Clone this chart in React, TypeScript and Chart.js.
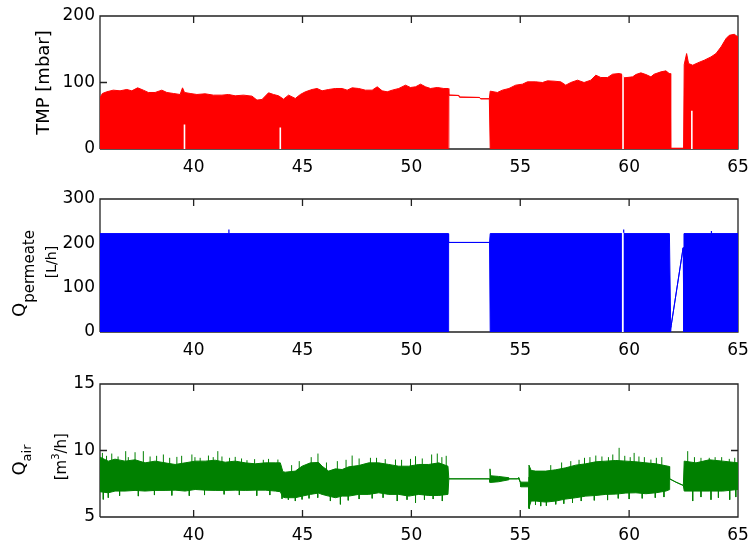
import React, { useEffect, useRef } from "react";
import { Chart, registerables } from "chart.js";
Chart.register(...registerables);

const FONT = "'DejaVu Sans', sans-serif";

// ---------- shared x axis (days) ----------
const xMin = 35.7;
const xMax = 65;
const xTicks = [40, 45, 50, 55, 60, 65];

// ---------- TMP [mbar] ----------
const tmpTicks = [0, 100, 200];
const tmpDays = [
  35.70, 35.81, 36.01, 36.31, 36.62, 36.93, 37.16, 37.43, 37.69, 37.92, 38.23, 38.54, 38.77, 39.07, 39.38, 39.49,
  39.58, 39.84, 40.15, 40.53, 40.91, 41.30, 41.60, 41.91, 42.29, 42.68, 42.91, 43.14, 43.44, 43.67, 43.90, 44.13,
  44.36, 44.67, 44.90, 45.13, 45.44, 45.67, 45.90, 46.20, 46.51, 46.82, 47.05, 47.28, 47.58, 47.89, 48.20, 48.43,
  48.66, 48.89, 49.12, 49.42, 49.73, 49.96, 50.19, 50.42, 50.65, 50.88, 51.19, 51.49, 51.69,
  51.72, 52.18, 52.21, 53.13, 53.18, 53.58,
  53.62, 53.95, 54.18, 54.48, 54.79, 55.10, 55.33, 55.71, 56.02, 56.25, 56.55, 56.86, 57.09, 57.32, 57.63, 57.93,
  58.24, 58.47, 58.70, 59.01, 59.24, 59.54, 59.67, 59.77, 60.16, 60.31, 60.54, 60.77, 61.00, 61.15, 61.46, 61.69,
  61.84, 61.89,
  61.91, 62.50,
  62.53, 62.64, 62.73, 62.92, 63.15, 63.45, 63.76, 63.99, 64.22, 64.45, 64.60, 64.83, 65.00,
];
const tmpValues = [
  77, 83.5, 86, 88.5, 87.5, 89.5, 87.5, 92, 88.5, 85, 85, 88.5, 85, 83.5, 82, 92,
  85, 83.5, 82, 83, 81, 81, 82, 80, 81, 79.5, 73.5, 74.5, 84.5, 82, 80, 75,
  81, 76, 82, 86, 89.5, 91, 87.5, 89.5, 91, 91, 88.5, 92, 91, 88.5, 88.5, 93.5,
  87.5, 86, 88.5, 91, 96, 92.5, 93.5, 97.5, 93.5, 91, 92.5, 91, 91,
  81, 80.5, 78, 77.5, 75.5, 75.5,
  87, 85, 88.5, 91, 96, 97.5, 101, 101, 100, 102.5, 102, 101, 96, 100, 103.5, 100,
  103.5, 111, 107.5, 107.5, 112.5, 113.5, 112.5, 107, 108.5, 112, 114.5, 112, 108.5, 112.5, 116, 117.5,
  113.5, 113.5,
  1, 1,
  127, 143.5, 128.5, 126, 129.5, 133.5, 138.5, 143.5, 153.5, 166, 171, 172.5, 168.5,
];
// periods with the pump idle (line only, no filtration cycles)
const tmpIdleStart = [51.70, 61.90];
const tmpIdleEnd = [53.60, 62.52];
// samples whose cycle minimum stayed high (white notches)
const tmpNotchDays = [39.58, 43.98, 59.72, 62.88];
const tmpNotchTops = [37, 32.5, 118, 57.5];

// ---------- Q permeate [L/h] ----------
const permTicks = [0, 100, 200, 300];
const permDays = [35.70, 51.69, 51.71, 53.59, 53.62, 61.85, 61.91, 61.93, 62.48, 62.52, 65.00];
const permValues = [222, 222, 202, 202, 222, 222, 10, 14, 190, 222, 222];
const permIdleStart = [51.70, 61.92];
const permIdleEnd = [53.60, 62.49];
const permSpikeDays = [41.62, 59.75, 63.78];
const permSpikeValues = [231, 231, 228];
const permSpikeBase = 222;
const permNotchDays = [59.71];
const permNotchTops = [224];

// ---------- Q air [m3/h] ----------
const airTicks = [5, 10, 15];
const airDays = [
  35.70, 36.08, 36.39, 36.85, 37.31, 37.77, 38.23, 38.69, 39.15, 39.61, 40.07, 40.53, 40.99, 41.45, 41.91, 42.37,
  42.83, 43.29, 43.75, 43.98, 44.10, 44.21, 44.67, 44.98, 45.36, 45.74, 45.90, 46.20, 46.51, 46.82, 47.12, 47.58,
  48.04, 48.50, 48.96, 49.42, 49.88, 50.34, 50.80, 51.26, 51.68,
  51.72, 53.59, 53.61, 53.64, 54.00, 54.48, 54.50, 54.86, 54.94, 55.00, 55.02, 55.38,
  55.40, 55.50, 55.71, 56.17, 56.63, 57.09, 57.55, 58.01, 58.47, 58.93, 59.39, 59.85, 60.31, 60.77, 61.23, 61.69,
  61.84,
  61.86, 62.15, 62.49,
  62.53, 63.07, 63.68, 64.30, 65.00,
];
const airHigh = [
  9.5, 9.2, 9.35, 9.2, 9.3, 9.07, 9.2, 9.07, 8.95, 9.07, 9.2, 9.2, 9.27, 9.12, 9.2, 9.07,
  9.0, 9.07, 9.07, 9.07, 8.4, 8.37, 8.45, 8.82, 9.07, 9.1, 8.82, 8.45, 8.62, 8.57, 8.77, 8.87,
  9.07, 9.07, 8.95, 8.82, 8.82, 8.95, 8.95, 9.07, 8.82,
  7.87, 7.87, 8.62, 8.1, 8.05, 7.95, 7.87, 7.87, 7.97, 7.65, 7.62, 7.62,
  8.9, 8.5, 8.45, 8.45, 8.55, 8.7, 8.9, 9.0, 9.15, 9.2, 9.25, 9.2, 9.15, 9.07, 9.0, 8.85,
  8.8,
  7.87, 7.62, 7.37,
  9.2, 9.07, 9.3, 9.2, 9.07,
];
const airLow = [
  6.9, 6.82, 6.95, 6.95, 7.0, 6.95, 7.0, 7.0, 7.02, 6.95, 7.07, 7.02, 7.0, 7.0, 7.02, 7.0,
  7.02, 7.02, 6.95, 6.9, 6.5, 6.45, 6.45, 6.57, 6.7, 6.8, 6.7, 6.57, 6.45, 6.57, 6.57, 6.7,
  6.7, 6.82, 6.7, 6.7, 6.57, 6.7, 6.62, 6.62, 6.7,
  7.87, 7.87, 7.6, 7.6, 7.65, 7.8, 7.87, 7.87, 7.85, 7.6, 7.27, 7.27,
  5.7, 6.2, 6.2, 6.12, 6.2, 6.35, 6.45, 6.57, 6.62, 6.7, 6.72, 6.8, 6.82, 6.75, 6.82, 6.95,
  7.05,
  7.87, 7.62, 7.37,
  6.95, 6.95, 6.95, 6.95, 7.07,
];
// individual peak samples sticking out of the noise band
const airSpikeBase = 8;
const airSpikeDays = [
  35.81, 36.00, 36.24, 36.53, 36.88, 37.00, 37.31, 37.69, 38.00, 38.30, 38.61, 38.90, 39.23, 39.45, 39.92, 40.06,
  40.30, 40.68, 40.90, 41.11, 41.30, 41.65, 41.91, 42.20, 42.45, 42.80, 43.20, 43.44, 43.87, 44.50, 44.85, 45.40,
  45.71, 46.10, 46.60, 47.00, 47.28, 47.60, 48.12, 48.40, 48.80, 49.27, 49.55, 49.96, 50.19, 50.50, 50.93, 51.19,
  51.40, 51.60, 56.40, 56.90, 57.32, 57.70, 57.95, 58.20, 58.47, 58.75, 59.05, 59.25, 59.54, 59.80, 60.05, 60.23,
  60.45, 60.70, 61.00, 61.25, 61.50, 62.69, 63.00, 63.30, 63.68, 63.95, 64.25, 64.60, 64.85,
  35.85, 36.08, 36.60, 37.46, 38.20, 39.00, 39.80, 40.50, 41.40, 42.10, 42.90, 43.50, 44.06, 44.35, 44.67, 44.98,
  45.30, 45.70, 46.28, 46.74, 47.10, 47.60, 48.20, 48.70, 49.35, 49.80, 50.19, 50.60, 51.00, 51.42, 55.41, 55.70,
  55.94, 56.20, 56.63, 57.00, 57.40, 57.80, 58.40, 59.01, 59.50, 60.00, 60.60, 61.20, 61.60, 62.92, 63.30, 63.76,
  64.10, 64.62, 64.90,
];
const airSpikeValues = [
  9.82, 9.6, 9.77, 9.55, 9.95, 9.5, 9.87, 9.95, 9.55, 9.6, 9.7, 9.45, 9.52, 9.6, 9.7, 9.5,
  9.45, 9.62, 9.5, 9.95, 9.55, 9.45, 9.52, 9.4, 9.27, 9.35, 9.3, 9.37, 9.32, 8.9, 9.2, 9.5,
  9.77, 9.1, 9.2, 9.3, 9.62, 9.4, 9.45, 9.45, 9.35, 9.32, 9.3, 9.37, 9.57, 9.4, 9.7, 9.77,
  9.5, 9.6, 8.9, 9.1, 9.2, 9.3, 9.45, 9.5, 9.62, 9.55, 9.5, 9.7, 10.2, 9.6, 9.5, 9.82,
  9.55, 9.5, 9.32, 9.45, 9.5, 9.95, 9.5, 9.45, 9.45, 9.5, 9.5, 9.37, 9.45,
  6.32, 6.45, 6.6, 6.57, 6.65, 6.62, 6.6, 6.65, 6.7, 6.65, 6.6, 6.65, 6.37, 6.3, 6.2, 6.32,
  6.4, 6.45, 6.2, 5.95, 6.25, 6.35, 6.4, 6.45, 6.2, 6.3, 6.07, 6.3, 6.35, 6.2, 5.6, 5.9,
  5.82, 5.85, 5.95, 6.0, 6.07, 6.2, 6.25, 6.27, 6.4, 6.35, 6.4, 6.45, 6.5, 6.2, 6.5, 6.3,
  6.45, 6.3, 6.5,
];

// ---------- helpers ----------
const inIdle = (d: number, s: number[], e: number[]) => s.some((v, i) => d >= v && d <= e[i]);
const pts = (days: number[], vals: number[]) => days.map((d, i) => ({ x: d, y: vals[i] }));
const floorOf = (days: number[], vals: number[], s: number[], e: number[]) =>
  days.map((d, i) => ({ x: d, y: inIdle(d, s, e) ? vals[i] : 0 }));
const vbars = (days: number[], from: number[] | number, to: number[]) => {
  const out: any[] = [];
  days.forEach((d, i) => {
    out.push({ x: d, y: Array.isArray(from) ? from[i] : from }, { x: d, y: to[i] }, { x: d, y: null });
  });
  return out;
};

const CANVAS_W = 749;
const CANVAS_H = 185;
const PAD_TOP = 16;
const PAD_RIGHT = 11;
const Y_AXIS_W = 100;
const PLOT_H = 133;
const PLOT_W = CANVAS_W - PAD_RIGHT - Y_AXIS_W;
const TICK_PX = 7;

// MATLAB-style axes box with inward tick marks, expressed in axis units (drawn under the data)
function frameData(yMin: number, yMax: number, yTicks: number[]) {
  const tx = ((xMax - xMin) * TICK_PX) / PLOT_W;
  const ty = ((yMax - yMin) * TICK_PX) / PLOT_H;
  const out: any[] = [
    { x: xMin, y: yMin }, { x: xMax, y: yMin }, { x: xMax, y: yMax }, { x: xMin, y: yMax }, { x: xMin, y: yMin },
    { x: xMin, y: null },
  ];
  for (const v of xTicks) {
    out.push({ x: v, y: yMax }, { x: v, y: yMax - ty }, { x: v, y: null });
    out.push({ x: v, y: yMin }, { x: v, y: yMin + ty }, { x: v, y: null });
  }
  for (const v of yTicks) {
    out.push({ x: xMin, y: v }, { x: xMin + tx, y: v }, { x: xMin, y: null });
    out.push({ x: xMax, y: v }, { x: xMax - tx, y: v }, { x: xMax, y: null });
  }
  return out;
}

type Run = { t: string; size: number; dy: number };
type TitleLine = { x: number; cy: number; runs: Run[] };

function drawTitles(chart: any, lines: TitleLine[]) {
  const ctx = chart.ctx;
  ctx.save();
  ctx.fillStyle = "#000";
  ctx.textBaseline = "alphabetic";
  ctx.textAlign = "left";
  for (const line of lines) {
    let total = 0;
    for (const r of line.runs) {
      ctx.font = `${r.size}px ${FONT}`;
      total += ctx.measureText(r.t).width;
    }
    ctx.save();
    ctx.translate(line.x, line.cy);
    ctx.rotate(-Math.PI / 2);
    let cx = -total / 2;
    for (const r of line.runs) {
      ctx.font = `${r.size}px ${FONT}`;
      ctx.fillText(r.t, cx, r.dy);
      cx += ctx.measureText(r.t).width;
    }
    ctx.restore();
  }
  ctx.restore();
}

const makeTitlePlugin = (lines: TitleLine[]) => ({
  id: "yTitles",
  afterDatasetsDraw(chart: any) {
    drawTitles(chart, lines);
  },
});

function makeConfig(series: any[], yMin: number, yMax: number, yTicks: number[], titles: TitleLine[]) {
  const frame = {
    data: frameData(yMin, yMax, yTicks),
    borderColor: "#222222",
    borderWidth: 1.3,
    fill: false,
    clip: false,
    order: 10,
  };
  return {
    type: "line",
    data: { datasets: [...series, frame] },
    options: {
      animation: false,
      responsive: false,
      events: [],
      layout: { padding: { top: PAD_TOP, right: PAD_RIGHT, bottom: 0, left: 0 } },
      elements: { point: { radius: 0 }, line: { tension: 0 } },
      plugins: { legend: { display: false }, tooltip: { enabled: false } },
      scales: {
        x: {
          type: "linear",
          min: xMin,
          max: xMax,
          grid: { display: false, drawTicks: false },
          border: { display: false },
          ticks: { color: "#000", font: { family: FONT, size: 17 }, padding: 8, maxRotation: 0, autoSkip: false },
          afterBuildTicks: (s: any) => {
            s.ticks = xTicks.map((v) => ({ value: v }));
          },
          afterFit: (s: any) => {
            s.height = CANVAS_H - PAD_TOP - PLOT_H;
            s.paddingLeft = 0;
            s.paddingRight = 0;
          },
        },
        y: {
          type: "linear",
          min: yMin,
          max: yMax,
          grid: { display: false, drawTicks: false },
          border: { display: false },
          ticks: { color: "#000", font: { family: FONT, size: 17 }, padding: 5, autoSkip: false },
          afterBuildTicks: (s: any) => {
            s.ticks = yTicks.map((v) => ({ value: v }));
          },
          afterFit: (s: any) => {
            s.width = Y_AXIS_W;
            s.paddingTop = 0;
            s.paddingBottom = 0;
          },
        },
      },
    },
    plugins: [makeTitlePlugin(titles)],
  };
}

const RED = "#ff0000";
const BLUE = "#0000ff";
const GREEN = "#008000";

function tmpConfig() {
  return makeConfig(
    [
      { data: vbars(tmpNotchDays, 0, tmpNotchTops), borderColor: "#ffffff", borderWidth: 1.6, fill: false, order: 0 },
      { data: pts(tmpDays, tmpValues), borderColor: RED, backgroundColor: RED, borderWidth: 1, fill: "+1", order: 1 },
      { data: floorOf(tmpDays, tmpValues, tmpIdleStart, tmpIdleEnd), borderColor: RED, borderWidth: 1, fill: false, order: 2 },
    ],
    0,
    200,
    tmpTicks,
    [{ x: 49, cy: 82.5, runs: [{ t: "TMP [mbar]", size: 18, dy: 0 }] }]
  );
}

function permConfig() {
  return makeConfig(
    [
      { data: vbars(permNotchDays, 0, permNotchTops), borderColor: "#ffffff", borderWidth: 1.8, fill: false, order: 0 },
      { data: vbars(permSpikeDays, permSpikeBase, permSpikeValues), borderColor: BLUE, borderWidth: 1.2, fill: false, order: 0 },
      { data: pts(permDays, permValues), borderColor: BLUE, backgroundColor: BLUE, borderWidth: 1, fill: "+1", order: 1 },
      { data: floorOf(permDays, permValues, permIdleStart, permIdleEnd), borderColor: BLUE, borderWidth: 1, fill: false, order: 2 },
    ],
    0,
    300,
    permTicks,
    [
      { x: 25, cy: 90.5, runs: [{ t: "Q", size: 18, dy: 0 }, { t: "permeate", size: 15, dy: 9 }] },
      { x: 56, cy: 79, runs: [{ t: "[L/h]", size: 14, dy: 0 }] },
    ]
  );
}

function airConfig() {
  return makeConfig(
    [
      { data: vbars(airSpikeDays, airSpikeBase, airSpikeValues), borderColor: GREEN, borderWidth: 1, fill: false, order: 0 },
      { data: pts(airDays, airHigh), borderColor: GREEN, backgroundColor: GREEN, borderWidth: 1, fill: "+1", order: 1 },
      { data: pts(airDays, airLow), borderColor: GREEN, borderWidth: 1, fill: false, order: 2 },
    ],
    5,
    15,
    airTicks,
    [
      { x: 25, cy: 92, runs: [{ t: "Q", size: 18, dy: 0 }, { t: "air", size: 13, dy: 6 }] },
      { x: 66, cy: 88.7, runs: [{ t: "[m", size: 15, dy: 0 }, { t: "3", size: 10, dy: -7 }, { t: "/h]", size: 15, dy: 0 }] },
    ]
  );
}

function Panel({ top, make }: { top: number; make: () => any }) {
  const ref = useRef<HTMLCanvasElement | null>(null);
  useEffect(() => {
    if (!ref.current) return;
    const chart = new Chart(ref.current, make());
    return () => chart.destroy();
  }, []);
  return (
    <canvas
      ref={ref}
      width={CANVAS_W}
      height={CANVAS_H}
      style={{ position: "absolute", left: 0, top, width: CANVAS_W, height: CANVAS_H }}
    />
  );
}

export default function App() {
  return (
    <div style={{ position: "absolute", left: 0, top: 0, width: 749, height: 547, overflow: "hidden", background: "#fff" }}>
      <Panel top={0} make={tmpConfig} />
      <Panel top={183} make={permConfig} />
      <Panel top={368} make={airConfig} />
    </div>
  );
}
